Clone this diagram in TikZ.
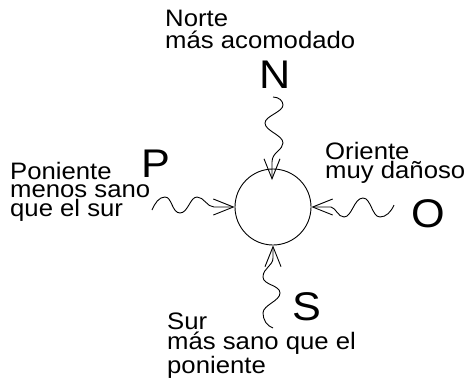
\documentclass[tikz,border=0pt]{standalone}
\usepackage{fontspec}
\setmainfont{Liberation Sans}[FakeStretch=1.08]
\usetikzlibrary{arrows.meta}
\begin{document}
\begin{tikzpicture}[x=1pt,y=-1pt,
  lbl/.style={anchor=base west,inner sep=0pt,align=left},
  big/.style={anchor=base,inner sep=0pt,font=\fontsize{40}{40}\selectfont},
  wave/.style={line width=0.9pt,-{Straight Barb[length=20pt,width=16pt,line width=0.9pt]}}]
\useasboundingbox (0,0) rectangle (470,380);
\node[circle,draw,line width=0.9pt,minimum size=76pt,inner sep=0pt] (c) at (273,207) {};
% labels (anchored at the baseline of their last line)
\node[lbl,font=\fontsize{23.8}{22}\selectfont] (tn) at (165,48) {Norte\\más acomodado};
\node[lbl,font=\fontsize{23.8}{18.5}\selectfont] (tp) at (10,216) {Poniente\\menos sano\\que el sur};
\node[lbl,font=\fontsize{23.8}{18.5}\selectfont] (to) at (325,178) {Oriente\\muy dañoso};
\node[lbl,font=\fontsize{23.8}{20}\selectfont] (ts) at (167,373) {Sur\\más sano que el\\poniente};
\node[big] (N) at (275,88) {N};
\node[big] (P) at (156,177) {P};
\node[big] (O) at (428,227) {O};
\node[big] (S) at (307,320) {S};
% wave start points
\coordinate (n0) at (273,97);
\coordinate (ntip) at (272,180);
\coordinate (s0) at (273,328);
\coordinate (p0) at (152,210);
\coordinate (o0) at (394,205);
% waves
\draw[wave] (n0) .. controls (279,97) and (283,101) .. (283,105)
  .. controls (283,112) and (265,116) .. (265,123)
  .. controls (265,131) and (283,135) .. (283,143)
  .. controls (283,150) and (272,152) .. (272,162) -- (ntip);
\draw[wave] (s0) .. controls (267,326) and (263,320) .. (263,313)
  .. controls (263,305) and (280,301) .. (280,293)
  .. controls (280,285) and (263,285) .. (263,277)
  .. controls (263,268) and (273,266) .. (273,258) -- (c.south);
\draw[wave] (p0) .. controls (155,203) and (159,197) .. (165,197)
  .. controls (172,197) and (172,213) .. (180,213)
  .. controls (188,213) and (190,197) .. (197,197)
  .. controls (204,197) and (207,207) .. (214,207) -- (c.west);
\draw[wave] (o0) .. controls (391,212) and (386,217) .. (380,217)
  .. controls (372,217) and (371,198) .. (363,198)
  .. controls (354,198) and (352,217) .. (344,217)
  .. controls (338,217) and (336,208) .. (331,207) -- (c.east);
\end{tikzpicture}
\end{document}
